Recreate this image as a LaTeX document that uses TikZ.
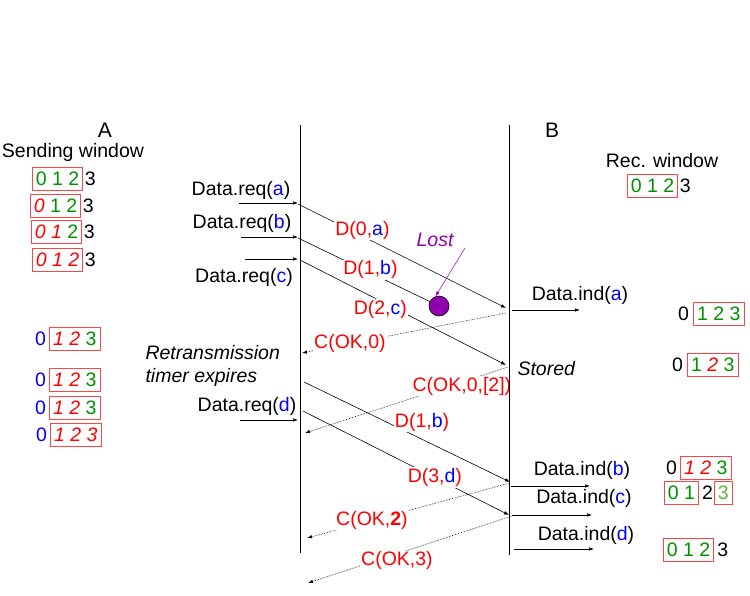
\documentclass[tikz,border=0pt]{standalone}
\usepackage{fontspec}
\setmainfont{Liberation Sans}
\usetikzlibrary{arrows.meta, positioning}

\definecolor{okgreen}{RGB}{0,145,0}
\definecolor{palegreen}{RGB}{95,185,55}
\definecolor{winred}{RGB}{255,70,70}
\definecolor{lostpurple}{RGB}{145,0,175}

\newcommand{\sG}[1]{\textcolor{okgreen}{#1}}
\newcommand{\sR}[1]{\textcolor{red}{\textit{#1}}}
\newcommand{\sB}[1]{\textcolor{blue}{#1}}

\begin{document}
\begin{tikzpicture}[x=1pt, y=-1pt, font=\fontsize{19.5}{23}\selectfont,
    winbox/.style={draw=winred, line width=0.7pt, inner xsep=3.5pt, inner ysep=4pt, text height=14pt, text depth=1pt},
    digit/.style={inner sep=0pt, text height=14pt, text depth=1pt},
    lbl/.style={fill=white, inner sep=1pt, text=red},
    msg/.style={-{Latex[length=5pt, width=3.5pt]}, line width=0.6pt},
    ack/.style={msg, densely dotted},
    prim/.style={msg}]
    \useasboundingbox (0,0) rectangle (750,595);

    % Entities
    \node[font=\fontsize{21}{25}\selectfont] (A) at (105,130) {A};
    \node[font=\fontsize{21}{25}\selectfont] (B) at (552,130) {B};
    \node (sendwin) at (73,152) {Sending window};
    \node (recwin) at (662,161) {Rec. window};

    % Sending window of A
    \node[winbox, anchor=west] (sw1) at (32,179) {\sG{0} \sG{1} \sG{2}};
    \node[digit, right=1.5pt of sw1] (sw1r) {3};
    \node[winbox, anchor=west] (sw2) at (30,206) {\sR{0} \sG{1} \sG{2}};
    \node[digit, right=1.5pt of sw2] (sw2r) {3};
    \node[winbox, anchor=west] (sw3) at (31,232) {\sR{0} \sR{1} \sG{2}};
    \node[digit, right=1.5pt of sw3] (sw3r) {3};
    \node[winbox, anchor=west] (sw4) at (32,260) {\sR{0} \sR{1} \sR{2}};
    \node[digit, right=1.5pt of sw4] (sw4r) {3};
    \node[digit, anchor=west] (sw5l) at (35,339) {\sB{0}};
    \node[winbox, right=3pt of sw5l] (sw5) {\sR{1} \sR{2} \sG{3}};
    \node[digit, anchor=west] (sw6l) at (35,380) {\sB{0}};
    \node[winbox, right=3pt of sw6l] (sw6) {\sR{1} \sR{2} \sG{3}};
    \node[digit, anchor=west] (sw7l) at (35,408) {\sB{0}};
    \node[winbox, right=3pt of sw7l] (sw7) {\sR{1} \sR{2} \sG{3}};
    \node[digit, anchor=west] (sw8l) at (36,435) {\sB{0}};
    \node[winbox, right=3pt of sw8l] (sw8) {\sR{1} \sR{2} \sR{3}};

    % Receiving window of B
    \node[winbox, anchor=west] (rw0) at (627,186) {\sG{0} \sG{1} \sG{2}};
    \node[digit, right=1.5pt of rw0] (rw0r) {3};
    \node[digit, anchor=west] (rw1l) at (678,314) {0};
    \node[winbox, right=4pt of rw1l] (rw1) {\sG{1} \sG{2} \sG{3}};
    \node[digit, anchor=west] (rw2l) at (672,365) {0};
    \node[winbox, right=4pt of rw2l] (rw2) {\sG{1} \sR{2} \sG{3}};
    \node[digit, anchor=west] (rw3l) at (666,468) {0};
    \node[winbox, right=3pt of rw3l] (rw3) {\sR{1} \sR{2} \sG{3}};
    \node[winbox, anchor=west] (rw4) at (664,493) {\sG{0} \sG{1}};
    \node[digit, right=3pt of rw4] (rw4m) {2};
    \node[winbox, right=1pt of rw4m] (rw4r) {\textcolor{palegreen}{3}};
    \node[winbox, anchor=west] (rw5) at (663,550) {\sG{0} \sG{1} \sG{2}};
    \node[digit, right=3pt of rw5] (rw5r) {3};

    % Requests at A
    \node (reqa) at (241,190) {Data.req(\sB{a})};
    \node (reqb) at (242,223) {Data.req(\sB{b})};
    \node (reqc) at (244,277) {Data.req(\sB{c})};
    \node (reqd) at (247,406) {Data.req(\sB{d})};
    \coordinate (reqa0) at (239,203); \coordinate (reqa1) at (298,203);
    \coordinate (reqb0) at (241,237); \coordinate (reqb1) at (298,237);
    \coordinate (reqc0) at (245,259); \coordinate (reqc1) at (298,259);
    \coordinate (reqd0) at (240,420); \coordinate (reqd1) at (298,420);
    \draw[prim] (reqa0) -- (reqa1);
    \draw[prim] (reqb0) -- (reqb1);
    \draw[prim] (reqc0) -- (reqc1);
    \draw[prim] (reqd0) -- (reqd1);
    \node[font=\fontsize{19.5}{23}\selectfont\itshape, align=left, anchor=west] (rto) at (142,366) {Retransmission\\timer expires};

    % Data frames
    \coordinate (d0s) at (298,204); \coordinate (d0e) at (506,308);
    \draw[msg] (d0s) -- node[lbl, pos=0.31, yshift=6pt] (d0) {D(0,\sB{a})} (d0e);
    \node[circle, draw, fill=lostpurple, minimum size=20pt, inner sep=0pt, line width=0.6pt] (lost) at (439,306) {};
    \coordinate (d1s) at (298,238);
    \draw[line width=0.6pt] (d1s) -- node[lbl, pos=0.55, yshift=3pt] (d1) {D(1,\sB{b})} (lost);
    \node[text=lostpurple, font=\fontsize{19.5}{23}\selectfont\itshape] (lostlbl) at (435,240) {Lost};
    \coordinate (lostfrom) at (465,248);
    \draw[-{Latex[length=5pt, width=3.5pt]}, lostpurple, line width=0.5pt] (lostfrom) -- (lost.110);
    \coordinate (d2s) at (300,260); \coordinate (d2e) at (506,365);
    \draw[msg] (d2s) -- node[lbl, pos=0.39, yshift=-8pt] (d2) {D(2,\sB{c})} (d2e);
    \coordinate (r1s) at (304,382); \coordinate (r1e) at (510,482);
    \draw[msg] (r1s) -- node[lbl, pos=0.573, yshift=17pt] (r1) {D(1,\sB{b})} (r1e);
    \coordinate (d3s) at (303,411); \coordinate (d3e) at (509,515);
    \draw[msg] (d3s) -- node[lbl, pos=0.64] (d3) {D(3,\sB{d})} (d3e);

    % Control frames
    \coordinate (c0s) at (506,313); \coordinate (c0e) at (302,353);
    \draw[ack] (c0s) -- node[lbl, pos=0.765] (c0) {C(OK,0)} (c0e);
    \coordinate (c1s) at (508,367); \coordinate (c1e) at (305,433);
    \draw[ack] (c1s) -- node[lbl, pos=0.227, yshift=-4pt] (c1) {C(OK,0,[2])} (c1e);
    \coordinate (c2s) at (510,483); \coordinate (c2e) at (307,538);
    \draw[ack] (c2s) -- node[lbl, pos=0.68] (c2) {C(OK,\textbf{2})} (c2e);
    \coordinate (c3s) at (512,516); \coordinate (c3e) at (308,583);
    \draw[ack] (c3s) -- node[lbl, pos=0.564, yshift=-7pt] (c3) {C(OK,3)} (c3e);

    % Indications at B
    \node (inda) at (580,295) {Data.ind(\sB{a})};
    \node (indb) at (582,470) {Data.ind(\sB{b})};
    \node (indc) at (584,498) {Data.ind(\sB{c})};
    \node (indd) at (586,535) {Data.ind(\sB{d})};
    \node[font=\fontsize{19.5}{23}\selectfont\itshape, anchor=west] (stored) at (514,369) {Stored};
    \coordinate (inda0) at (512,310); \coordinate (inda1) at (580,310);
    \coordinate (indb0) at (511,486); \coordinate (indb1) at (590,486);
    \coordinate (indc0) at (512,515); \coordinate (indc1) at (592,515);
    \coordinate (indd0) at (514,549); \coordinate (indd1) at (594,549);
    \draw[prim] (inda0) -- (inda1);
    \draw[prim] (indb0) -- (indb1);
    \draw[prim] (indc0) -- (indc1);
    \draw[prim] (indd0) -- (indd1);

    % Lifelines
    \coordinate (Atop) at (300,125); \coordinate (Abot) at (300,553);
    \coordinate (Btop) at (509,125); \coordinate (Bbot) at (509,555);
    \draw[line width=0.7pt] (Atop) -- (Abot);
    \draw[line width=0.7pt] (Btop) -- (Bbot);
\end{tikzpicture}
\end{document}
